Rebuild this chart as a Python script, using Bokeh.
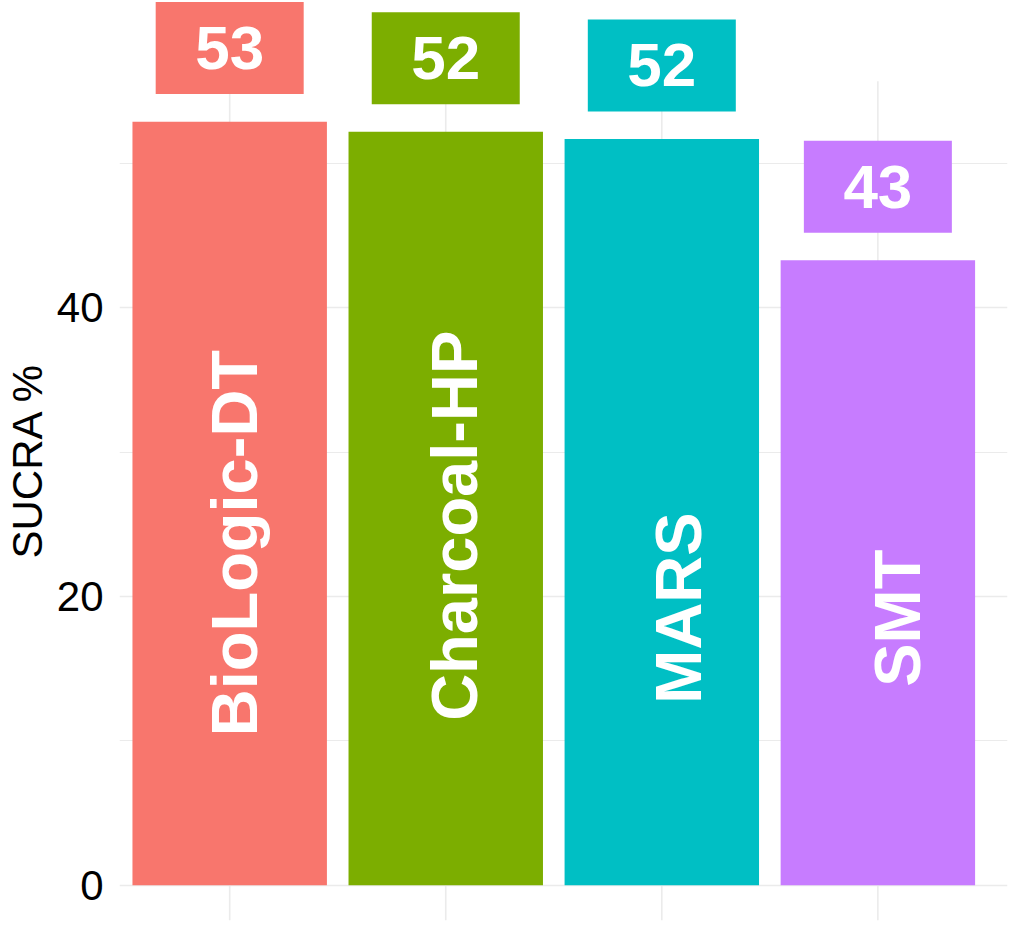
import numpy as np
from bokeh.plotting import figure
from bokeh.models import ColumnDataSource, Range1d, FixedTicker
from bokeh.core.properties import value
from bokeh.embed import file_html
from bokeh.resources import INLINE

# ---- data ----
categories = ["BioLogic-DT", "Charcoal-HP", "MARS", "SMT"]
sucra = [52.9, 52.2, 51.7, 43.3]
sucra_labels = ["53", "52", "52", "43"]
colors = ["#F8766D", "#7CAE00", "#00BFC4", "#C77CFF"]
y_ticks = [0, 20, 40]
y_minor = [10, 30, 50]

# ---- layout constants (not data) ----
name_y = [23.7, 24.9, 19.2, 18.5]      # vertical anchor of the rotated names
name_nudge = [5, 9, 17, 20]            # px nudge of the rotated names
label_offset = 5.1                     # value label sits above bar top

xs = np.arange(len(categories)) + 0.5
src = ColumnDataSource(dict(
    x=xs, top=sucra, lab=sucra_labels, color=colors, name=categories,
    name_y=name_y, nudge=name_nudge,
    lab_y=[v + label_offset for v in sucra],
))

FONT = "Liberation Sans"
GRID = "#EBEBEB"

p = figure(width=1017, height=936, output_backend="svg", toolbar_location=None,
           x_range=Range1d(-0.01, 4.1), y_range=Range1d(-2.45, 61.3),
           min_border_left=0, min_border_right=10, min_border_top=0,
           min_border_bottom=16)
p.outline_line_color = None
p.background_fill_color = "white"
p.border_fill_color = "white"

p.xaxis.visible = False
p.xgrid.visible = False

ya = p.yaxis[0]
ya.ticker = FixedTicker(ticks=y_ticks, minor_ticks=y_minor)
ya.axis_line_color = None
ya.major_tick_line_color = None
ya.minor_tick_line_color = None
ya.major_label_text_font = FONT
ya.major_label_text_font_size = "42px"
ya.major_label_text_color = "#000000"
ya.major_label_standoff = 10
ya.axis_label = "SUCRA %"
ya.axis_label_text_font = FONT
ya.axis_label_text_font_size = "42px"
ya.axis_label_text_font_style = "normal"
ya.axis_label_text_color = "#000000"
ya.axis_label_standoff = 3

p.ygrid.grid_line_color = GRID
p.ygrid.grid_line_width = 1.6
p.ygrid.minor_grid_line_color = GRID
p.ygrid.minor_grid_line_width = 1.2

# vertical grid lines at categories (panel only, below label area)
p.segment(x0="x", x1="x", y0=-2.45, y1=55.7, source=src,
          line_color=GRID, line_width=1.6)

p.vbar(x="x", top="top", bottom=0, width=0.9, source=src,
       fill_color="color", line_color=None)

p.rect(x="x", y="lab_y", width=148, height=92, width_units="screen",
       height_units="screen", source=src, fill_color="color", line_color=None)

p.text(x="x", y="lab_y", text="lab", source=src, text_align="center",
       text_baseline="middle", text_color="white",
       text_font=value(FONT), text_font_style="bold", text_font_size="62px")

p.text(x="x", y="name_y", text="name", source=src, angle=np.pi / 2,
       x_offset="nudge", text_align="center", text_baseline="middle",
       text_color="white", text_font=value(FONT), text_font_style="bold",
       text_font_size="65px")

open("out.html", "w").write(file_html(p, INLINE))
